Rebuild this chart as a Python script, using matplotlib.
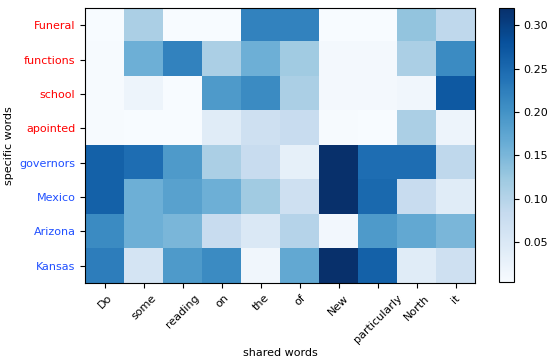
import numpy as np
import matplotlib
matplotlib.use("Agg")
import matplotlib.pyplot as plt

# Words on each axis
specific_words = ["Funeral", "functions", "school", "apointed",
                  "governors", "Mexico", "Arizona", "Kansas"]
shared_words = ["Do", "some", "reading", "on", "the", "of",
                "New", "particularly", "North", "it"]
label_colors = ["red"] * 4 + ["#1f4fff"] * 4

# Similarity scores, one list per specific word
funeral = [0.005, 0.11, 0.005, 0.005, 0.22, 0.22, 0.005, 0.005, 0.13, 0.09]
functions = [0.006, 0.16, 0.22, 0.11, 0.16, 0.12, 0.01, 0.01, 0.11, 0.21]
school = [0.006, 0.02, 0.005, 0.19, 0.21, 0.11, 0.01, 0.01, 0.015, 0.27]
apointed = [0.006, 0.005, 0.005, 0.04, 0.07, 0.08, 0.006, 0.005, 0.11, 0.02]
governors = [0.26, 0.245, 0.19, 0.11, 0.08, 0.03, 0.32, 0.245, 0.245, 0.09]
mexico = [0.26, 0.16, 0.18, 0.16, 0.12, 0.07, 0.32, 0.25, 0.08, 0.04]
arizona = [0.21, 0.16, 0.15, 0.08, 0.05, 0.10, 0.012, 0.19, 0.17, 0.15]
kansas = [0.225, 0.06, 0.19, 0.21, 0.015, 0.17, 0.32, 0.26, 0.04, 0.07]


def build_matrix():
    """Stacks the rows into a 2D array."""
    return np.array([funeral, functions, school, apointed,
                     governors, mexico, arizona, kansas])


def draw(data):
    fig = plt.figure(figsize=(5.5, 3.62), dpi=100)
    ax = fig.add_axes([0.155, 0.218, 0.709, 0.76])
    cax = fig.add_axes([0.907, 0.221, 0.027, 0.757])

    im = ax.imshow(data, cmap="Blues", aspect="auto",
                   interpolation="nearest", vmin=0.004, vmax=0.32)
    ax.set_xticks(range(len(shared_words)))
    ax.set_xticklabels(shared_words, rotation=45, ha="center", fontsize=8)
    ax.set_yticks(range(len(specific_words)))
    ax.set_yticklabels(specific_words, fontsize=8)
    for lab, c in zip(ax.get_yticklabels(), label_colors):
        lab.set_color(c)
    ax.set_xlabel("shared words", fontsize=8, labelpad=2)
    ax.set_ylabel("specific words", fontsize=8)

    cb = fig.colorbar(im, cax=cax)
    cb.set_ticks([0.05, 0.10, 0.15, 0.20, 0.25, 0.30])
    cb.ax.tick_params(labelsize=8)

    fig.savefig("out.png", dpi=100)
    plt.close(fig)


if __name__ == "__main__":
    draw(build_matrix())
